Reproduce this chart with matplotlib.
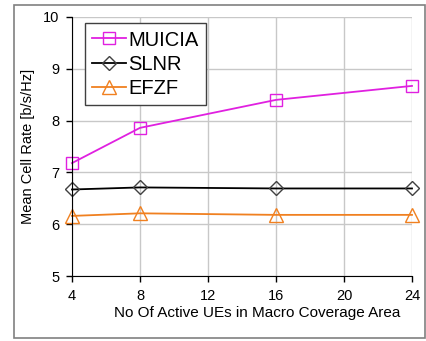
import matplotlib.pyplot as plt
from matplotlib.patches import Rectangle

plt.rcParams['font.family'] = ['Liberation Sans', 'DejaVu Sans']

# data
ues = [4, 8, 16, 24]
muicia = [7.18, 7.86, 8.40, 8.67]
slnr = [6.67, 6.71, 6.69, 6.69]
efzf = [6.16, 6.21, 6.18, 6.18]

fig = plt.figure(figsize=(4.27, 3.41), dpi=100)
# grey frame round the whole chart
fig.patches.append(Rectangle((14/427, 3/341), 411/427, 333/341, transform=fig.transFigure,
                             fill=False, edgecolor='#808080', linewidth=1.2))
ax = fig.add_axes([72/427, 1-276/341, 340/427, 259/341])

ax.plot(ues, muicia, color='#E020E0', marker='s', markersize=9, markerfacecolor='none',
        markeredgewidth=1.0, linewidth=1.3, label='MUICIA', clip_on=False)
ax.plot(ues, slnr, color='black', marker='D', markersize=7, markerfacecolor='none',
        markeredgecolor='#404040', markeredgewidth=1.0, linewidth=1.3, label='SLNR', clip_on=False)
ax.plot(ues, efzf, color='#F08020', marker='^', markersize=10, markerfacecolor='none',
        markeredgewidth=1.0, linewidth=1.3, label='EFZF', clip_on=False)

ax.set_xlim(4, 24)
ax.set_ylim(5, 10)
ax.set_xticks([4, 8, 12, 16, 20, 24])
ax.set_yticks([5, 6, 7, 8, 9, 10])
ax.grid(True, color='#c8c8c8', linewidth=1.0)
ax.set_axisbelow(True)
for s in ['top', 'right']:
    ax.spines[s].set_visible(False)
ax.tick_params(labelsize=10.5, length=4, width=1, pad=5)
ax.set_xlabel('No Of Active UEs in Macro Coverage Area', fontsize=11)
ax.xaxis.set_label_coords(0.545, -0.115)
ax.set_ylabel('Mean Cell Rate [b/s/Hz]', fontsize=10.5, labelpad=6)

leg = ax.legend(loc='upper left', bbox_to_anchor=(0.038, 0.975), fontsize=14.5, fancybox=False,
                framealpha=1, edgecolor='#404040', handlelength=1.7, handletextpad=0.1,
                borderpad=0.35, labelspacing=0.25, borderaxespad=0)
leg.get_frame().set_linewidth(1.0)

fig.savefig('out.png', dpi=100)
